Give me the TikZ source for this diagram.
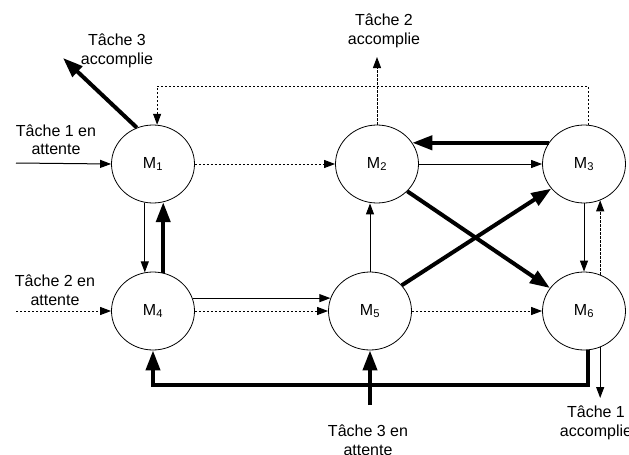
\documentclass[tikz,border=0pt]{standalone}
\usepackage{fontspec}
\setmainfont{Liberation Sans}
\usepackage{tikz}
\usetikzlibrary{arrows.meta,shapes.geometric}

\tikzset{
  machine/.style={draw,ellipse,line width=0.8pt,minimum width=83pt,minimum height=78pt,inner sep=0pt},
  note/.style={align=center,inner sep=0pt},
  thin/.style={line width=1pt,-{Triangle[length=11pt,width=8pt]}},
  dots/.style={thin,dash pattern=on 2.2pt off 1.8pt},
  heavy/.style={line width=4pt,-{Triangle[length=20pt,width=14pt]}}
}

\begin{document}
\begin{tikzpicture}[x=1pt,y=-1pt,font=\fontsize{16}{18.5}\selectfont]
%%Location
\useasboundingbox (0,0) rectangle (629,455);
%%Machines
\node[machine] (m1) at (153,164) {M\textsubscript{1}};
\node[machine] (m2) at (377,164) {M\textsubscript{2}};
\node[machine] (m3) at (584,164) {M\textsubscript{3}};
\node[machine] (m4) at (153,311) {M\textsubscript{4}};
\node[machine] (m5) at (370,311) {M\textsubscript{5}};
\node[machine] (m6) at (584,311) {M\textsubscript{6}};

%%Label
\node[note] (wait1) at (56,140) {Tâche 1 en\\attente};
\node[note] (wait2) at (55,290) {Tâche 2 en\\attente};
\node[note] (wait3) at (368,440) {Tâche 3 en\\attente};
\node[note] (acc1) at (596,423) {Tâche 1\\accomplie};
\node[note] (acc2) at (384,31) {Tâche 2\\accomplie};
\node[note] (acc3) at (117,51) {Tâche 3\\accomplie};

%%Ends
\coordinate (in1) at (16,163);
\coordinate (in2) at (16,311);
\coordinate (in3) at (370,405);
\coordinate (out1) at (600,398);
\coordinate (out2) at (377,57);
\coordinate (out3) at (63,58);
\coordinate (top) at (0,86);
\coordinate (loop) at (0,385);

%%Task 1
\draw[thin] (in1) -- (m1.west);
\draw[thin] (m1.258) -- (m4.102);
\draw[thin] (m4.18) -- (m5.162);
\draw[thin] (m5.north) -- (m5.north |- m2.south);
\draw[thin] (m2.east) -- (m3.west);
\draw[thin] (m3.south) -- (m6.north);
\draw[thin] (m6.-66) -- (m6.-66 |- out1);

%%Task 2
\draw[dots] (in2) -- (m4.west);
\draw[dots] (m4.east) -- (m5.west);
\draw[dots] (m5.east) -- (m6.west);
\draw[dots] (m6.66) -- (m3.-66);
\draw[dots] (m3.84) -- (m3.84 |- top) -| (m1.84);
\draw[dots] (m1.east) -- (m2.west);
\draw[dots] (m2.north) -- (m2.north |- out2);

%%Task 3
\draw[heavy] (in3) -- (m5.south);
\draw[heavy] (m5.39) -- (m3.217);
\draw[heavy] (m3.149) -- (m2.31);
\draw[heavy] (m2.-42) -- (m6.146);
\draw[heavy] (m6.-84) -- (m6.-84 |- loop) -| (m4.south);
\draw[heavy] (m4.75) -- (m1.-75);
\draw[heavy] (m1.114) -- (out3);
\end{tikzpicture}
\end{document}
